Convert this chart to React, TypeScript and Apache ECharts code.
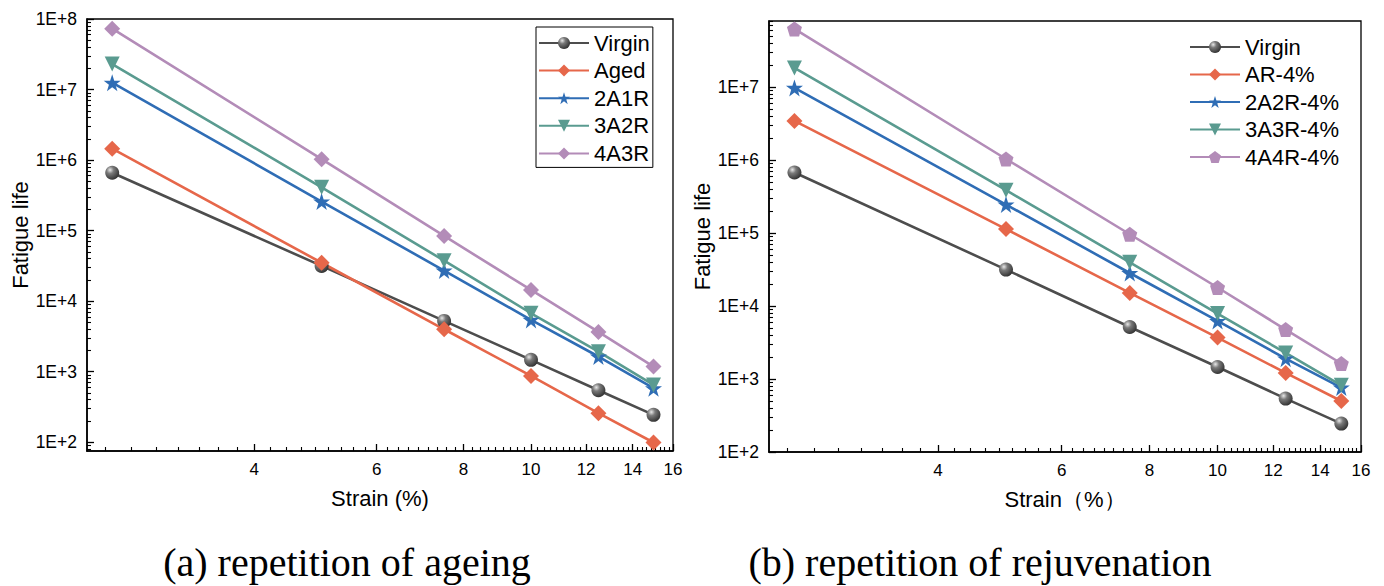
import React, { useEffect, useRef } from 'react';
import * as echarts from 'echarts';

// ---------- data ----------
const strain = [2.5, 5, 7.5, 10, 12.5, 15];

const namesA = ['Virgin', 'Aged', '2A1R', '3A2R', '4A3R'];
const virginA = [6.6e5, 3.16e4, 5.24e3, 1.47e3, 546, 244];
const agedA = [1.45e6, 3.5e4, 3.99e3, 871, 258, 99];
const a2a1r = [1.25e7, 2.58e5, 2.71e4, 5.42e3, 1.64e3, 582];
const a3a2r = [2.3e7, 4.11e5, 3.75e4, 6.73e3, 1.92e3, 649];
const a4a3r = [7.29e7, 1.03e6, 8.4e4, 1.44e4, 3.66e3, 1.18e3];

const namesB = ['Virgin', 'AR-4%', '2A2R-4%', '3A3R-4%', '4A4R-4%'];
const virginB = [6.72e5, 3.15e4, 5.15e3, 1.46e3, 539, 245];
const ar4 = [3.42e6, 1.13e5, 1.51e4, 3.69e3, 1.21e3, 500];
const b2a2r = [9.7e6, 2.45e5, 2.83e4, 6.23e3, 1.9e3, 762];
const b3a3r = [1.82e7, 3.85e5, 3.97e4, 7.87e3, 2.27e3, 820];
const b4a4r = [6.24e7, 1.03e6, 9.6e4, 1.79e4, 4.75e3, 1.63e3];

const xMajorTicks = [4, 6, 8, 10, 12, 14, 16];
const yMajorTicks = [1e2, 1e3, 1e4, 1e5, 1e6, 1e7, 1e8];
const xRange = [2.3, 16];
const yRangeA = [75, 1e8];
const yRangeB = [100, 8e7];

const captionA = '(a) repetition of ageing';
const captionB = '(b) repetition of rejuvenation';

// ---------- helpers ----------
const lg = (v: number) => Math.log10(v);
const SANS = '"Liberation Sans", Arial, sans-serif';
const SERIF = '"Liberation Serif", "Times New Roman", serif';

const COLORS = {
  virgin: '#4d4d4d',
  aged: '#e6674a',
  blue: '#2f6db5',
  teal: '#5a9b90',
  purple: '#b38cb8',
};

const STAR = 'path://M50,0 L61.8,35.1 L98.9,35.1 L68.8,57 L80.2,92.7 L50,70.8 L19.8,92.7 L31.2,57 L1.1,35.1 L38.2,35.1 Z';
const PENTAGON = 'path://M50,0 L97.6,34.5 L79.4,90.5 L20.6,90.5 L2.4,34.5 Z';
const TRI_DOWN = 'path://M0,0 L100,0 L50,87 Z';

function xMinorTicks() {
  const out: number[] = [];
  for (let i = 0; i < xMajorTicks.length; i++) {
    const a = i === 0 ? xMajorTicks[0] - 2 : xMajorTicks[i - 1];
    const b = xMajorTicks[i];
    for (let k = 1; k < 9; k++) {
      const v = a + ((b - a) * k) / 9;
      if (v >= xRange[0] && v <= xRange[1]) out.push(lg(v));
    }
  }
  return out;
}

function yMinorTicks(range: number[]) {
  const out: number[] = [];
  for (let e = 1; e <= 8; e++) {
    for (let m = 2; m <= 9; m++) {
      const v = m * Math.pow(10, e);
      if (v >= range[0] && v <= range[1]) out.push(lg(v));
    }
  }
  return out;
}

function makeXAxes(gridIndex: number, name: string) {
  const min = lg(xRange[0]);
  const max = lg(xRange[1]);
  const major = xMajorTicks.map(lg);
  return [
    {
      type: 'value', gridIndex, min, max, position: 'bottom',
      name, nameLocation: 'middle', nameGap: 36,
      nameTextStyle: { fontFamily: SANS, fontSize: 22, color: '#000' },
      axisLine: { show: true, onZero: false, lineStyle: { color: '#000', width: 1.6 } },
      axisTick: { show: true, inside: true, length: 7, lineStyle: { color: '#000', width: 1.3 }, customValues: major },
      axisLabel: {
        show: true, customValues: major, margin: 10,
        fontFamily: SANS, fontSize: 17, color: '#000',
        formatter: (v: number) => String(Math.round(Math.pow(10, v))),
      },
      splitLine: { show: false },
    },
    {
      type: 'value', gridIndex, min, max, position: 'bottom',
      axisLine: { show: false, onZero: false },
      axisTick: { show: true, inside: true, length: 4, lineStyle: { color: '#000', width: 1.1 }, customValues: xMinorTicks() },
      axisLabel: { show: false },
      splitLine: { show: false },
    },
  ];
}

function makeYAxes(gridIndex: number, range: number[]) {
  const min = lg(range[0]);
  const max = lg(range[1]);
  const major = yMajorTicks.filter((v) => v >= range[0] && v <= range[1]).map(lg);
  return [
    {
      type: 'value', gridIndex, min, max, position: 'left',
      name: 'Fatigue life', nameLocation: 'middle', nameGap: 56,
      nameTextStyle: { fontFamily: SANS, fontSize: 22, color: '#000' },
      axisLine: { show: true, onZero: false, lineStyle: { color: '#000', width: 1.6 } },
      axisTick: { show: true, inside: true, length: 7, lineStyle: { color: '#000', width: 1.3 }, customValues: major },
      axisLabel: {
        show: true, customValues: major, margin: 10,
        fontFamily: SANS, fontSize: 17.5, color: '#000',
        formatter: (v: number) => '1E+' + Math.round(v),
      },
      splitLine: { show: false },
    },
    {
      type: 'value', gridIndex, min, max, position: 'left',
      axisLine: { show: false, onZero: false },
      axisTick: { show: true, inside: true, length: 4, lineStyle: { color: '#000', width: 1.1 }, customValues: yMinorTicks(range) },
      axisLabel: { show: false },
      splitLine: { show: false },
    },
  ];
}

const sphere = () =>
  new echarts.graphic.RadialGradient(0.35, 0.3, 0.75, [
    { offset: 0, color: '#e8e8e8' },
    { offset: 0.35, color: '#7a7a7a' },
    { offset: 1, color: '#2e2e2e' },
  ]);

function makeSeries(name: string, values: number[], axisIdx: number, color: string, symbol: string, size: number, itemColor?: any) {
  return {
    type: 'line', name, xAxisIndex: axisIdx, yAxisIndex: axisIdx,
    data: strain.map((s, i) => [lg(s), lg(values[i])]),
    symbol, symbolSize: size, showSymbol: true,
    lineStyle: { color, width: 2.6 },
    itemStyle: { color: itemColor || color },
    emphasis: { disabled: true },
  };
}

export default function App() {
  const ref = useRef<HTMLDivElement>(null);
  useEffect(() => {
    if (!ref.current) return;
    const chart = echarts.init(ref.current, undefined, { renderer: 'svg' });
    const option: any = {
      animation: false,
      backgroundColor: '#fff',
      grid: [
        { left: 87, top: 19, width: 586, height: 432, show: true, borderColor: '#000', borderWidth: 1.3, backgroundColor: 'transparent' },
        { left: 769, top: 21, width: 592, height: 431, show: true, borderColor: '#000', borderWidth: 1.3, backgroundColor: 'transparent' },
      ],
      xAxis: [...makeXAxes(0, 'Strain (%)'), ...makeXAxes(1, 'Strain（%）')],
      yAxis: [...makeYAxes(0, yRangeA), ...makeYAxes(1, yRangeB)],
      legend: [
        {
          data: namesA, orient: 'vertical', left: 536, top: 27,
          itemWidth: 50, itemHeight: 15, itemGap: 5.6,
          padding: [5, 3, 3, 2], borderColor: '#000', borderWidth: 1,
          textStyle: { fontFamily: SANS, fontSize: 22, color: '#000', lineHeight: 22 },
          selectedMode: false,
        },
        {
          data: namesB, orient: 'vertical', left: 1189, top: 36,
          itemWidth: 50, itemHeight: 15, itemGap: 5.5, padding: 0,
          textStyle: { fontFamily: SANS, fontSize: 22, color: '#000', lineHeight: 22 },
          selectedMode: false,
        },
      ],
      series: [
        makeSeries(namesA[0], virginA, 0, COLORS.virgin, 'circle', 14, sphere()),
        makeSeries(namesA[1], agedA, 0, COLORS.aged, 'diamond', 16),
        makeSeries(namesA[2], a2a1r, 0, COLORS.blue, STAR, 17),
        makeSeries(namesA[3], a3a2r, 0, COLORS.teal, TRI_DOWN, 15),
        makeSeries(namesA[4], a4a3r, 0, COLORS.purple, 'diamond', 16),
        makeSeries(namesB[0], virginB, 2, COLORS.virgin, 'circle', 14, sphere()),
        makeSeries(namesB[1], ar4, 2, COLORS.aged, 'diamond', 16),
        makeSeries(namesB[2], b2a2r, 2, COLORS.blue, STAR, 17),
        makeSeries(namesB[3], b3a3r, 2, COLORS.teal, TRI_DOWN, 15),
        makeSeries(namesB[4], b4a4r, 2, COLORS.purple, PENTAGON, 15),
      ],
      graphic: [
        {
          type: 'text', x: 347, y: 562,
          style: { text: captionA, fontFamily: SERIF, fontSize: 40, fill: '#000', align: 'center', verticalAlign: 'middle' },
        },
        {
          type: 'text', x: 980, y: 562,
          style: { text: captionB, fontFamily: SERIF, fontSize: 40, fill: '#000', align: 'center', verticalAlign: 'middle' },
        },
      ],
    };
    chart.setOption(option);
    return () => chart.dispose();
  }, []);
  return <div ref={ref} style={{ position: 'fixed', left: 0, top: 0, width: 1384, height: 586 }} />;
}
